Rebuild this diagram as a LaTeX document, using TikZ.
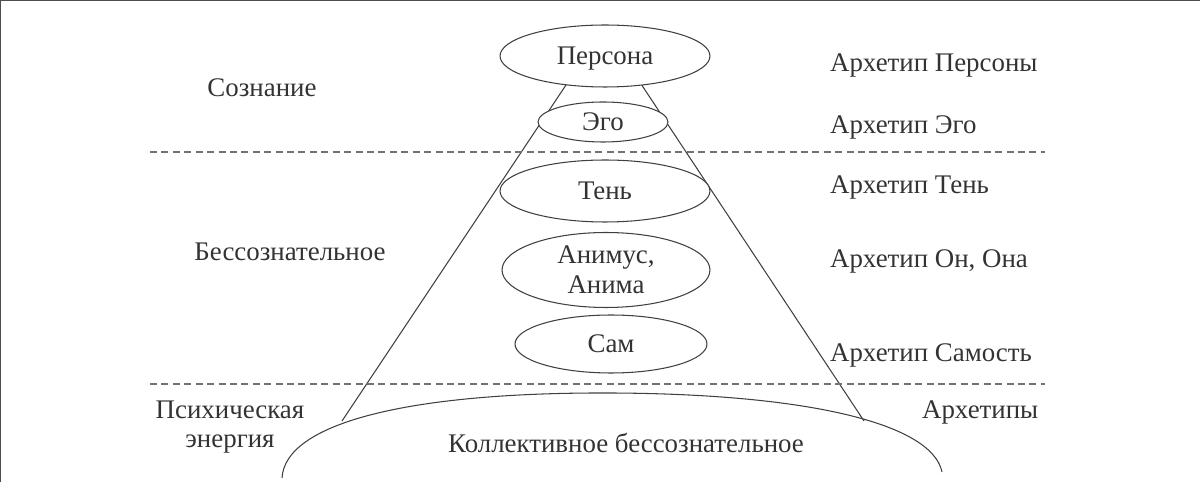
\documentclass[tikz,border=0pt]{standalone}
\usepackage{fontspec}
\setmainfont{Liberation Serif}
\usetikzlibrary{shapes.geometric}

\begin{document}
\begin{tikzpicture}[x=0.02cm, y=-0.02cm]
        \tikzstyle{every node}=[font=\fontsize{15.3}{17}\selectfont, text=black!80, inner sep=1pt]
        \tikzstyle{part}=[ellipse, draw=black!75, fill=white, line width=0.6pt, align=center, text depth=0pt]
        \tikzstyle{single}=[part, text height=0.92em]
        \tikzstyle{edge}=[black!75, line width=0.6pt]
        \tikzstyle{level}=[black!55, line width=0.8pt, dash pattern=on 4pt off 2.5pt]
        \tikzstyle{arch}=[anchor=west]

        \useasboundingbox (0,0) rectangle (1200,482);
        \draw[black!70, line width=1.5pt] (0,482) -- (0,0) -- (1200,0);

        % pyramid
        \coordinate (apex) at (604,28);
        \coordinate (bl) at (342,421);
        \coordinate (br) at (864,421);
        \draw[edge] (bl) -- (apex) -- (br);

        % levels
        \coordinate (d1l) at (150,152);
        \coordinate (d1r) at (1045,152);
        \coordinate (d2l) at (150,384);
        \coordinate (d2r) at (1045,384);
        \draw[level] (d1l) -- (d1r);
        \draw[level] (d2l) -- (d2r);

        % collective unconscious
        \coordinate (cl) at (282,478);
        \coordinate (ct) at (612,393);
        \coordinate (cr) at (942,472);
        \draw[edge] (cl) .. controls (285,424) and (405,392) .. (ct)
                        .. controls (810,394) and (932,424) .. (cr);

        \node[single, minimum width=4.2cm, minimum height=1.24cm] (persona) at (605,56) {Персона};
        \node[single, minimum width=2.6cm, minimum height=0.8cm] (ego) at (603,122) {Эго};
        \node[single, minimum width=4.2cm, minimum height=1.24cm] (shadow) at (605,191) {Тень};
        \node[part, minimum width=4.16cm, minimum height=1.5cm, inner sep=0pt] (anima) at (606,270) {Анимус,\\Анима};
        \node[single, minimum width=3.84cm, minimum height=1.16cm] (self) at (611,344) {Сам};

        \node (consc) at (262,88) {Сознание};
        \node (unconsc) at (290,252) {Бессознательное};
        \node[align=center] (energy) at (230,427) {Психическая\\энергия};
        \node (collective) at (626,443) {Коллективное бессознательное};

        \node[arch] (apersona) at (828,65) {Архетип Персоны};
        \node[arch] (aego) at (828,127) {Архетип Эго};
        \node[arch] (ashadow) at (828,187) {Архетип Тень};
        \node[arch] (aanima) at (828,261) {Архетип Он, Она};
        \node[arch] (aself) at (828,355) {Архетип Самость};
        \node[arch] (aall) at (920,412) {Архетипы};
    \end{tikzpicture}
\end{document}
